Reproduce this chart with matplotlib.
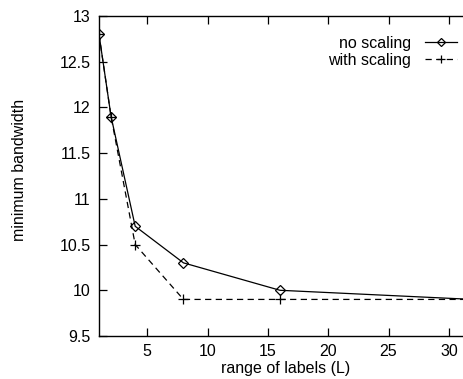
import matplotlib
matplotlib.use("Agg")
import matplotlib.pyplot as plt

plt.rcParams["font.family"] = ["Liberation Sans", "DejaVu Sans"]
plt.rcParams["font.size"] = 11.5

labels_range = [1, 2, 4, 8, 16, 32]
no_scaling = [12.8, 11.9, 10.7, 10.3, 10.0, 9.9]
with_scaling = [12.8, 11.9, 10.5, 9.9, 9.9, 9.9]

W, H = 464, 379
fig = plt.figure(figsize=(W / 100, H / 100), dpi=100)
# plot area was cropped on the right in the original, so the axes run past the figure edge
left, right, top, bottom = 99, 473, 16, 336
ax = fig.add_axes([left / W, 1 - bottom / H, (right - left) / W, (bottom - top) / H])

ax.plot(labels_range, no_scaling, color="black", lw=0.9, marker="D", ms=5.5,
        mfc="none", mec="black", mew=0.9, label="no scaling")
ax.plot(labels_range, with_scaling, color="black", lw=0.9, ls=(0, (5, 3.5)), marker="+",
        ms=7, mew=0.9, label="with scaling")

ax.set_xlim(1, 32)
ax.set_ylim(9.5, 13)
ax.set_xticks([5, 10, 15, 20, 25, 30])
ax.set_yticks([9.5, 10, 10.5, 11, 11.5, 12, 12.5, 13])
ax.set_yticklabels(["9.5", "10", "10.5", "11", "11.5", "12", "12.5", "13"])
ax.tick_params(direction="in", top=True, right=True, length=6, width=0.9, pad=6)
for s in ax.spines.values():
    s.set_linewidth(1.0)

ax.set_xlabel("range of labels (L)", labelpad=1)
fig.text(20 / W, 1 - 170 / H, "minimum bandwidth", rotation=90, ha="center", va="center")

leg = ax.legend(loc="upper right", bbox_to_anchor=(457 / W, 1 - 36 / H), bbox_transform=fig.transFigure,
                frameon=False, markerfirst=False, handlelength=2.0, handletextpad=0.9,
                labelspacing=0.1, borderaxespad=0, borderpad=0, numpoints=1, markerscale=0.8)

fig.savefig("out.png", dpi=100)
